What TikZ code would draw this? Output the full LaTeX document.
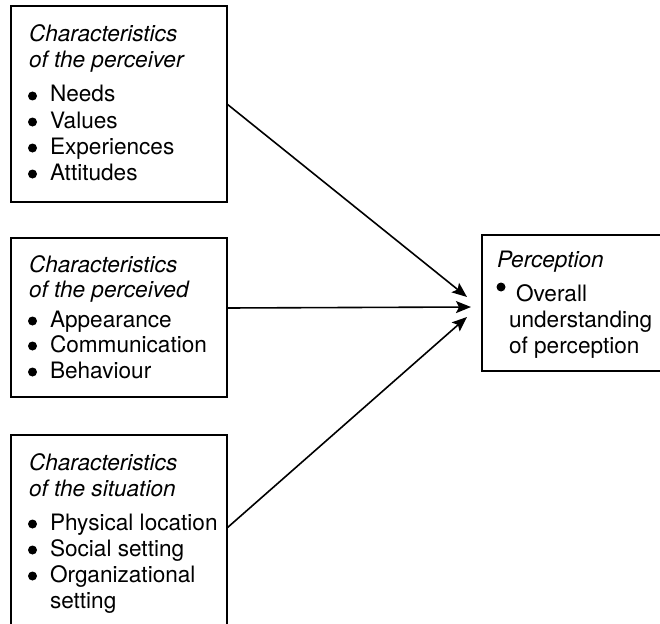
\documentclass[tikz,border=0pt]{standalone}
\usepackage{fontspec}
\setmainfont{TeX Gyre Heros}
\usetikzlibrary{arrows.meta}
\begin{document}
\begin{tikzpicture}[x=1pt,y=-1pt]
\tikzset{
  box/.style={draw, line width=1.8pt, inner sep=0pt, outer sep=0pt, anchor=north west},
  txt/.style={anchor=base west, inner sep=0pt, outer sep=0pt, font=\fontsize{22.6}{26}\selectfont},
  head/.style={txt, font=\fontsize{22.6}{26}\selectfont\itshape},
  dot/.style={circle, fill, inner sep=0pt, minimum size=9pt},
  link/.style={line width=1.6pt, -{Stealth[length=15pt,width=12pt,inset=3pt]}}
}
\useasboundingbox (0,0) rectangle (660,623);
\fill[white] (0,0) rectangle (660,623);
\clip (0,0) rectangle (660,623);

% boxes
\node[box, minimum width=216pt, minimum height=196pt] (b1) at (11,6) {};
\node[box, minimum width=216pt, minimum height=159pt] (b2) at (11,238) {};
\node[box, minimum width=216pt, minimum height=260pt] (b3) at (11,435) {};
\node[box, minimum width=220pt, minimum height=136pt] (b4) at (482,235) {};

% perceiver
\node[head] (h1a) at (29,42) {Characteristics};
\node[head] (h1b) at (29,68) {of the perceiver};
\node[dot] (d1a) at (32.5,96) {}; \node[txt] (i1a) at (50,102) {Needs};
\node[dot] (d1b) at (32.5,122) {}; \node[txt] (i1b) at (50,128) {Values};
\node[dot] (d1c) at (32.5,148) {}; \node[txt] (i1c) at (50,154) {Experiences};
\node[dot] (d1d) at (32.5,174) {}; \node[txt] (i1d) at (50,180) {Attitudes};

% perceived
\node[head] (h2a) at (29,272) {Characteristics};
\node[head] (h2b) at (29,297) {of the perceived};
\node[dot] (d2a) at (32.5,321) {}; \node[txt] (i2a) at (50,327) {Appearance};
\node[dot] (d2b) at (32.5,346) {}; \node[txt] (i2b) at (50,352) {Communication};
\node[dot] (d2c) at (32.5,372) {}; \node[txt] (i2c) at (50,378) {Behaviour};

% situation
\node[head] (h3a) at (29,470) {Characteristics};
\node[head] (h3b) at (29,496) {of the situation};
\node[dot] (d3a) at (32.5,524) {}; \node[txt] (i3a) at (50,530) {Physical location};
\node[dot] (d3b) at (32.5,550) {}; \node[txt] (i3b) at (50,556) {Social setting};
\node[dot] (d3c) at (32.5,576) {}; \node[txt] (i3c) at (50,582) {Organizational};
\node[txt] (i3d) at (50,608) {setting};

% perception
\node[head] (h4a) at (497,267) {Perception};
\node[dot] (d4a) at (501,287) {};
\node[txt] (i4a) at (516,301) {Overall};
\node[txt] (i4b) at (509,327) {understanding};
\node[txt] (i4c) at (509,353) {of perception};

% connectors
\coordinate (t1) at (467,297);
\coordinate (t2) at (471,307);
\coordinate (t3) at (467,317);
\coordinate (s2) at (227,308);
\coordinate (s3) at (227,528);
\draw[link] (b1.east) -- (t1);
\draw[link] (b2.east |- s2) -- (t2);
\draw[link] (b3.east |- s3) -- (t3);
\end{tikzpicture}
\end{document}
